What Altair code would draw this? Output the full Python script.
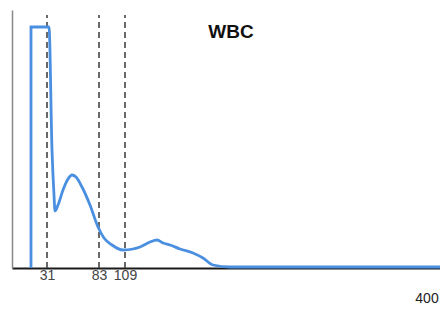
import altair as alt
import pandas as pd

# Curve (WBC histogram)
curve_x = [15, 15, 33, 36, 38, 39, 42, 47, 52, 56, 60, 66, 74, 82, 88, 96, 107, 117, 124, 134, 141, 147, 154, 164, 177, 187, 197, 214, 424]
curve_y = [0, 241, 241, 118, 73, 57, 63, 78, 89, 93, 91, 81, 63, 41, 30, 23, 18, 19, 21, 26, 28, 25, 23, 19, 15, 10, 3, 1, 1]

# Dashed threshold lines
thresholds = [31, 83, 109]

title_text = "WBC"
end_label = "400"

curve_df = pd.DataFrame({"x": curve_x, "y": curve_y, "order": list(range(len(curve_x)))})
thr_df = pd.DataFrame({"x": thresholds, "y": [0] * len(thresholds), "y2": [253] * len(thresholds)})
title_df = pd.DataFrame({"x": [215], "y": [236], "t": [title_text]})
end_df = pd.DataFrame({"x": [411], "y": [-31], "t": [end_label]})

xscale = alt.Scale(domain=[-4, 424], nice=False, zero=False)
yscale = alt.Scale(domain=[0, 258], nice=False, zero=False)

base_x = alt.X("x:Q", scale=xscale, axis=alt.Axis(
    values=thresholds, title=None, grid=False, ticks=False,
    labelFontSize=14, labelColor="#444", labelFont="Liberation Sans",
    labelPadding=0, domainColor="#1a1a1a", domainWidth=2, labelFlush=False))
base_y = alt.Y("y:Q", scale=yscale, axis=alt.Axis(
    title=None, grid=False, ticks=False, labels=False,
    domainColor="#888", domainWidth=1.5))

rules = alt.Chart(thr_df).mark_rule(color="#444", strokeWidth=1.6, strokeDash=[6, 4]).encode(
    x=base_x, y=base_y, y2="y2:Q")

line = alt.Chart(curve_df).mark_line(color="#4a8fe0", strokeWidth=2.8, interpolate="monotone").encode(
    x=alt.X("x:Q", scale=xscale), y=alt.Y("y:Q", scale=yscale), order="order:Q")

title = alt.Chart(title_df).mark_text(fontSize=19, fontWeight="bold", font="Liberation Sans",
                                      color="#111", baseline="middle").encode(
    x=alt.X("x:Q", scale=xscale), y=alt.Y("y:Q", scale=yscale), text="t:N")

end = alt.Chart(end_df).mark_text(fontSize=14, font="Liberation Sans", color="#222",
                                  baseline="middle", clip=False).encode(
    x=alt.X("x:Q", scale=xscale), y=alt.Y("y:Q", scale=yscale), text="t:N")

chart = alt.layer(rules, line, title, end).properties(
    width=428, height=258,
    background="white",
    autosize=alt.AutoSizeParams(type="none"),
    padding={"left": 4, "top": 2, "right": 0, "bottom": 39},
).configure_view(stroke="transparent", strokeWidth=0)

chart.save("out.html", embed_options={"renderer": "svg", "actions": False})
